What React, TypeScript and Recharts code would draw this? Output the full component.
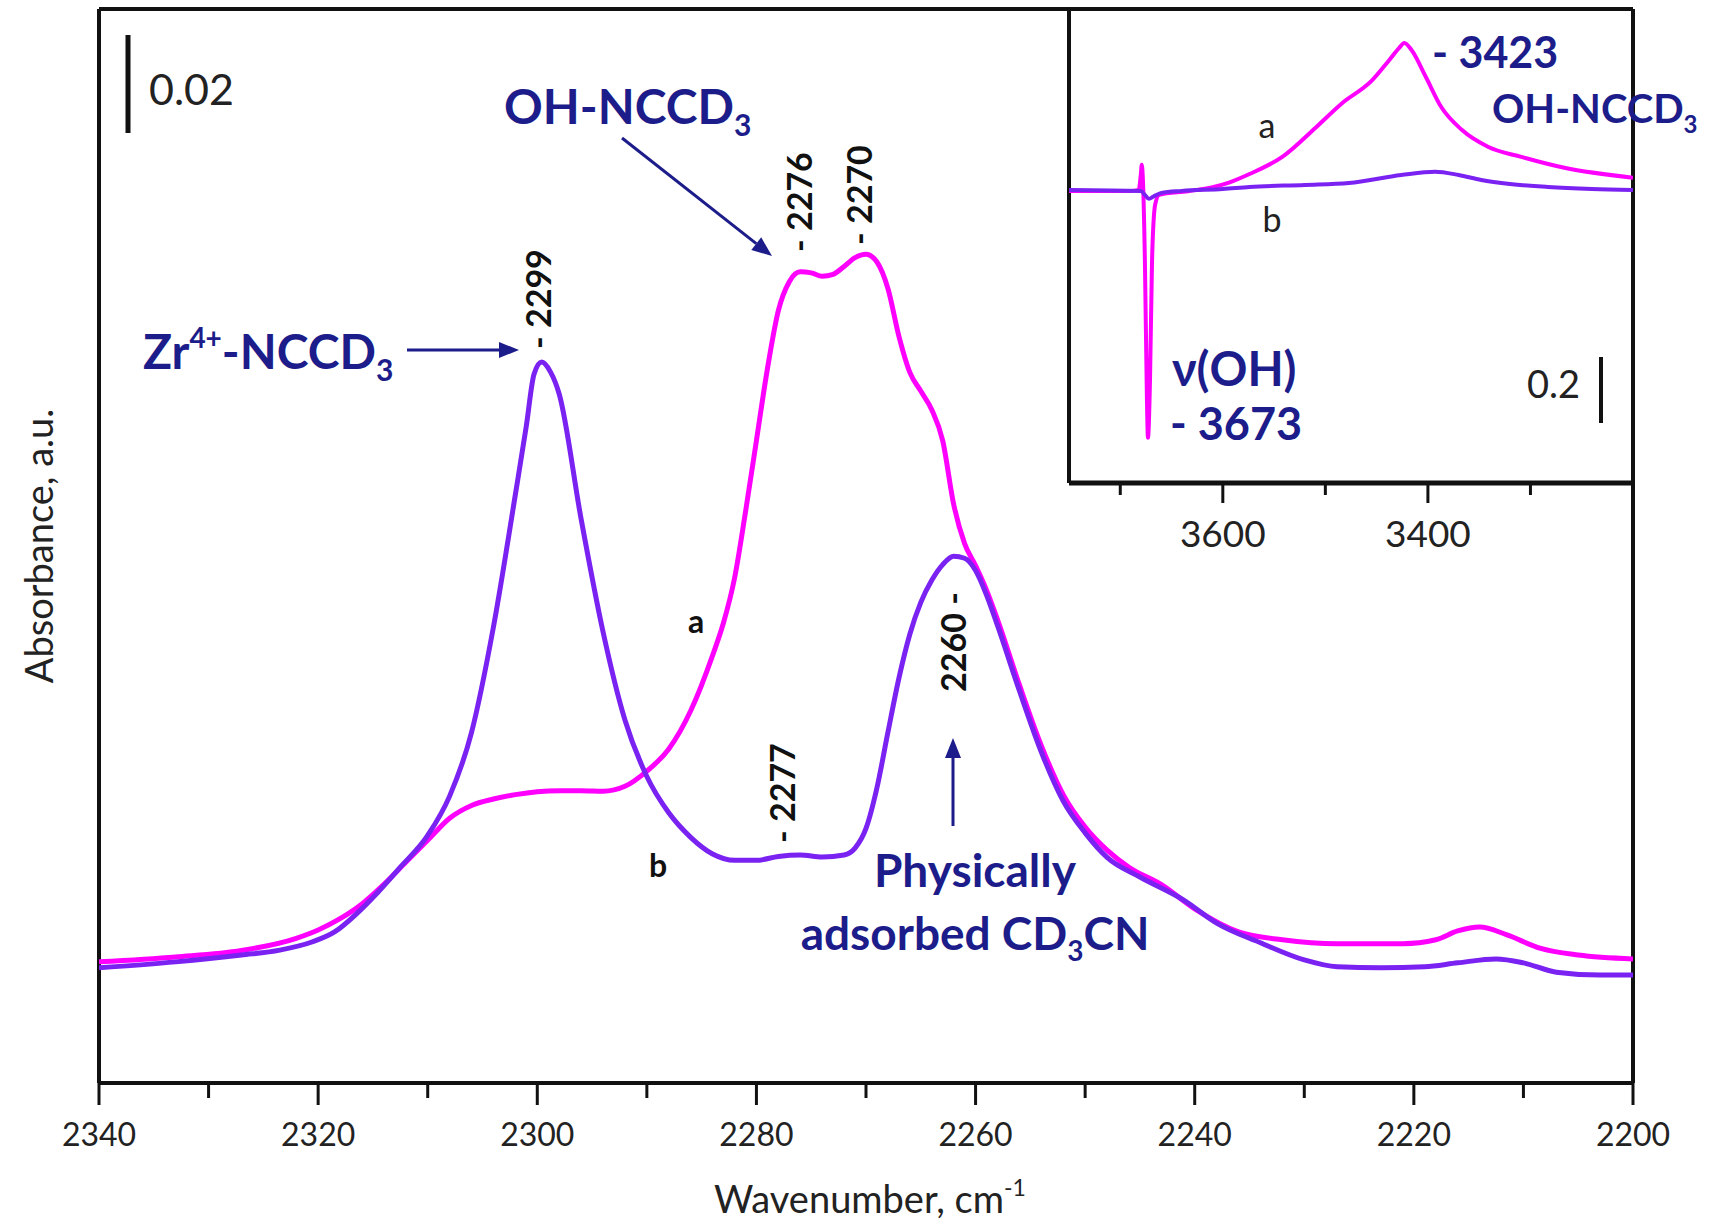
import React from 'react';
import { LineChart, Line, XAxis, YAxis, ReferenceLine } from 'recharts';

// main spectrum, curve a (magenta)
const aWave = [2340, 2333, 2327, 2322, 2320, 2318, 2316, 2314, 2312, 2310, 2308, 2306, 2304, 2302, 2300, 2298, 2296, 2294, 2292, 2290, 2288, 2286, 2284, 2283, 2282, 2281, 2280, 2279, 2278, 2277, 2276, 2275, 2274, 2273, 2272, 2271, 2270, 2269, 2268, 2267, 2266, 2265, 2264, 2263, 2262, 2261, 2260, 2259, 2258, 2256, 2254, 2252, 2250, 2248, 2246, 2243, 2240, 2236, 2232, 2227, 2221, 2218, 2216, 2214, 2211.5, 2208.5, 2205, 2200];
const aAbs = [0.0247, 0.0257, 0.027, 0.0295, 0.0312, 0.0335, 0.0365, 0.0405, 0.045, 0.0495, 0.054, 0.0566, 0.0579, 0.0588, 0.0594, 0.0596, 0.0596, 0.0595, 0.0605, 0.0636, 0.0681, 0.0759, 0.0872, 0.0939, 0.1029, 0.1164, 0.131, 0.1456, 0.1575, 0.1634, 0.1654, 0.1652, 0.1645, 0.1649, 0.1665, 0.1683, 0.169, 0.1674, 0.162, 0.1523, 0.1449, 0.1411, 0.1373, 0.131, 0.118, 0.11, 0.1055, 0.1005, 0.0945, 0.0812, 0.0688, 0.0588, 0.0522, 0.0475, 0.044, 0.0404, 0.0355, 0.0308, 0.0292, 0.0284, 0.0284, 0.0292, 0.031, 0.0318, 0.0302, 0.0275, 0.0261, 0.0253];

// main spectrum, curve b (violet)
const bWave = [2340, 2333, 2327, 2323.5, 2320.5, 2318.5, 2316.5, 2314.5, 2312.5, 2310, 2308, 2306, 2304, 2302, 2301, 2300.3, 2299.6, 2298.8, 2298, 2296, 2294, 2292, 2290, 2288, 2286, 2284, 2282, 2280, 2278, 2276, 2274, 2272, 2271, 2270, 2269, 2268, 2267, 2266, 2265, 2264, 2263, 2262, 2261, 2260, 2259, 2258, 2256, 2254, 2252, 2250, 2248, 2245, 2241, 2238, 2234, 2230, 2227, 2223, 2219, 2216, 2212.5, 2210, 2207, 2203, 2200];
const bAbs = [0.0235, 0.0247, 0.0261, 0.0271, 0.0288, 0.0308, 0.0345, 0.039, 0.044, 0.0505, 0.0585, 0.0715, 0.093, 0.12, 0.134, 0.1445, 0.147, 0.145, 0.1405, 0.115, 0.092, 0.074, 0.0625, 0.0551, 0.0501, 0.0467, 0.0454, 0.0454, 0.0462, 0.0465, 0.0461, 0.0465, 0.0479, 0.0519, 0.0602, 0.0715, 0.0825, 0.0915, 0.098, 0.1025, 0.1057, 0.1074, 0.107, 0.1045, 0.0995, 0.0933, 0.08, 0.0675, 0.0575, 0.051, 0.046, 0.042, 0.0373, 0.0326, 0.0286, 0.0251, 0.0237, 0.0235, 0.0237, 0.0245, 0.0253, 0.0245, 0.0226, 0.022, 0.022];

// inset (OH region), curve a
const iaWave = [3750, 3720, 3690, 3682, 3680, 3679, 3678, 3676, 3674, 3673, 3671, 3669, 3666, 3662, 3634, 3610, 3594, 3574, 3542, 3509, 3484, 3455, 3438, 3428, 3423, 3416, 3402, 3387, 3367, 3341, 3309, 3267, 3200];
const iaAbs = [-0.003, -0.003, -0.003, 0, 0.045, 0.076, 0.036, -0.212, -0.636, -0.751, -0.576, -0.212, -0.045, -0.015, -0.004, 0.008, 0.022, 0.048, 0.1, 0.19, 0.262, 0.33, 0.392, 0.43, 0.445, 0.424, 0.342, 0.251, 0.182, 0.13, 0.1, 0.067, 0.037];

// inset, curve b
const ibWave = [3750, 3680, 3676, 3672, 3668, 3660, 3640, 3600, 3574, 3520, 3477, 3426, 3393, 3370, 3348, 3320, 3283, 3240, 3200];
const ibAbs = [0, -0.003, -0.015, -0.027, -0.021, -0.009, -0.003, 0.003, 0.009, 0.015, 0.021, 0.045, 0.055, 0.045, 0.03, 0.018, 0.009, 0.003, 0];

const mainTicks = [2340, 2330, 2320, 2310, 2300, 2290, 2280, 2270, 2260, 2250, 2240, 2230, 2220, 2210, 2200];
const insetTicks = [3700, 3600, 3500, 3400, 3300];

const MAGENTA = '#ff00ff';
const VIOLET = '#7a22f2';
const BLUE = '#1c1c8a';
const FONT = 'Lato, "Open Sans", sans-serif';

const toPoints = (w: number[], v: number[]) => w.map((x, i) => ({ w: x, v: v[i] }));

const MainTick = (props: any) => {
  const { x, y, payload } = props;
  const major = payload.value % 20 === 0;
  return (
    <g>
      <line x1={x} x2={x} y1={y} y2={y + (major ? 22 : 15)} stroke="#111" strokeWidth={3} />
      {major && (
        <text x={x} y={y + 63} textAnchor="middle" fontSize={32} fontFamily={FONT} fill="#222">
          {payload.value}
        </text>
      )}
    </g>
  );
};

const InsetTick = (props: any) => {
  const { x, y, payload } = props;
  const major = payload.value % 200 === 0;
  return (
    <g>
      <line x1={x} x2={x} y1={y} y2={y + (major ? 20 : 12)} stroke="#111" strokeWidth={3} />
      {major && (
        <text x={x} y={y + 64} textAnchor="middle" fontSize={37} fontFamily={FONT} fill="#222">
          {payload.value}
        </text>
      )}
    </g>
  );
};

function Arrow({ x1, y1, x2, y2, head = 20 }: { x1: number; y1: number; x2: number; y2: number; head?: number }) {
  const ang = Math.atan2(y2 - y1, x2 - x1);
  const bx = x2 - head * Math.cos(ang);
  const by = y2 - head * Math.sin(ang);
  const hw = head * 0.4;
  const px = -Math.sin(ang) * hw;
  const py = Math.cos(ang) * hw;
  return (
    <g>
      <line x1={x1} y1={y1} x2={bx} y2={by} stroke={BLUE} strokeWidth={3} />
      <polygon points={`${x2},${y2} ${bx + px},${by + py} ${bx - px},${by - py}`} fill={BLUE} />
    </g>
  );
}

const vLabel = (x: number, y: number, s: string) => (
  <text x={x} y={y} transform={`rotate(-90 ${x} ${y})`} fontSize={34} fontWeight={700} fontFamily={FONT} fill="#111">
    {s}
  </text>
);

export default function App() {
  return (
    <div style={{ position: 'absolute', left: 0, top: 0, width: 1727, height: 1229, background: '#fff', fontFamily: FONT }}>
      <div style={{ position: 'absolute', left: 0, top: 0 }}>
        <LineChart width={1727} height={1229} margin={{ top: 9, right: 94, bottom: 86, left: 99 }}>
          <XAxis
            type="number"
            dataKey="w"
            domain={[2200, 2340]}
            reversed
            allowDataOverflow
            ticks={mainTicks}
            interval={0}
            height={60}
            tickSize={0}
            tickMargin={0}
            tickLine={false}
            axisLine={{ stroke: '#111', strokeWidth: 4 }}
            tick={(p: any) => <MainTick {...p} />}
          />
          <YAxis hide type="number" domain={[0, 0.219]} allowDataOverflow />
          <ReferenceLine x={2340} stroke="#111" strokeWidth={4} />
          <ReferenceLine x={2200} stroke="#111" strokeWidth={4} />
          <ReferenceLine y={0.219} stroke="#111" strokeWidth={4} />
          <Line data={toPoints(aWave, aAbs)} dataKey="v" type="monotone" stroke={MAGENTA} strokeWidth={5} dot={false} isAnimationActive={false} />
          <Line data={toPoints(bWave, bAbs)} dataKey="v" type="monotone" stroke={VIOLET} strokeWidth={5} dot={false} isAnimationActive={false} />
        </LineChart>
      </div>

      <div style={{ position: 'absolute', left: 1049, top: 0 }}>
        <LineChart width={624} height={600} margin={{ top: 9, right: 40, bottom: 57, left: 20 }}>
          <XAxis
            type="number"
            dataKey="w"
            domain={[3200, 3750]}
            reversed
            allowDataOverflow
            ticks={insetTicks}
            interval={0}
            height={60}
            tickSize={0}
            tickMargin={0}
            tickLine={false}
            axisLine={{ stroke: '#111', strokeWidth: 5 }}
            tick={(p: any) => <InsetTick {...p} />}
          />
          <YAxis hide type="number" domain={[-0.888, 0.548]} allowDataOverflow />
          <ReferenceLine x={3750} stroke="#111" strokeWidth={4} />
          <Line data={toPoints(iaWave, iaAbs)} dataKey="v" type="monotone" stroke={MAGENTA} strokeWidth={4} dot={false} isAnimationActive={false} />
          <Line data={toPoints(ibWave, ibAbs)} dataKey="v" type="monotone" stroke={VIOLET} strokeWidth={4} dot={false} isAnimationActive={false} />
        </LineChart>
      </div>

      <svg width={1727} height={1229} style={{ position: 'absolute', left: 0, top: 0, pointerEvents: 'none' }} fontFamily={FONT}>
        {/* scale bar main */}
        <line x1={128} x2={128} y1={35} y2={133} stroke="#111" strokeWidth={5} />
        <text x={149} y={105} fontSize={43} fill="#222">0.02</text>

        {/* axis titles */}
        <text x={870} y={1213} textAnchor="middle" fontSize={38} fill="#222">
          Wavenumber, cm<tspan dy={-17} fontSize={23}>-1</tspan>
        </text>
        <text x={53} y={546} transform="rotate(-90 53 546)" textAnchor="middle" fontSize={38} fill="#222">
          Absorbance, a.u.
        </text>

        {/* main annotations */}
        <text x={143} y={369} fontSize={48} fontWeight={700} fill={BLUE}>
          Zr<tspan dy={-21} fontSize={28}>4+</tspan>
          <tspan dy={21}>-NCCD</tspan>
          <tspan dy={12} fontSize={30}>3</tspan>
        </text>
        <Arrow x1={407} y1={350} x2={519} y2={350} />

        <text x={504} y={124} fontSize={48} fontWeight={700} fill={BLUE}>
          OH-NCCD<tspan dy={12} fontSize={30}>3</tspan>
        </text>
        <Arrow x1={622} y1={138} x2={772} y2={256} />

        {vLabel(551, 349, '- 2299')}
        {vLabel(812, 252, '- 2276')}
        {vLabel(872, 245, '- 2270')}
        {vLabel(795, 843, '- 2277')}
        {vLabel(966, 692, '2260 -')}

        <Arrow x1={953} y1={826} x2={953} y2={738} />
        <text x={975} y={887} textAnchor="middle" fontSize={46} fontWeight={700} fill={BLUE}>Physically</text>
        <text x={975} y={950} textAnchor="middle" fontSize={46} fontWeight={700} fill={BLUE}>
          adsorbed CD<tspan dy={11} fontSize={28}>3</tspan>
          <tspan dy={-11}>CN</tspan>
        </text>

        <text x={696} y={633} textAnchor="middle" fontSize={32} fontWeight={700} fill="#111">a</text>
        <text x={658} y={877} textAnchor="middle" fontSize={32} fontWeight={700} fill="#111">b</text>

        {/* inset annotations */}
        <text x={1432} y={68} fontSize={43} fontWeight={700} fill={BLUE}>- 3423</text>
        <text x={1492} y={123} fontSize={40} fontWeight={700} fill={BLUE}>
          OH-NCCD<tspan dy={10} fontSize={24}>3</tspan>
        </text>
        <text x={1267} y={138} textAnchor="middle" fontSize={34} fill="#222">a</text>
        <text x={1272} y={232} textAnchor="middle" fontSize={34} fill="#222">b</text>
        <text x={1172} y={386} fontSize={47} fontWeight={700} fill={BLUE}>ν(OH)</text>
        <text x={1170} y={440} fontSize={45} fontWeight={700} fill={BLUE}>- 3673</text>
        <text x={1527} y={398} fontSize={38} fill="#222">0.2</text>
        <line x1={1601} x2={1601} y1={357} y2={423} stroke="#111" strokeWidth={4} />
      </svg>
    </div>
  );
}
